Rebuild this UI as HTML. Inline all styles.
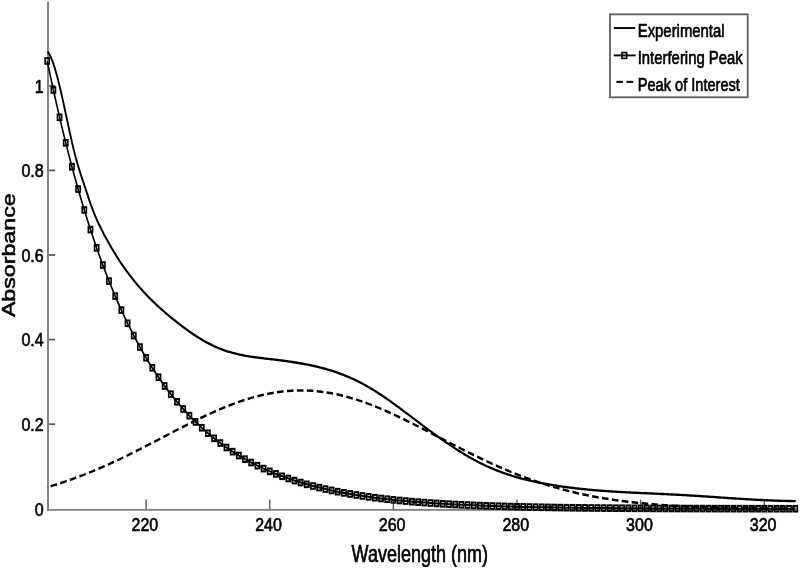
<!DOCTYPE html>
<html><head><meta charset="utf-8"><style>
html,body{margin:0;padding:0;background:#fff;width:800px;height:568px;overflow:hidden}
svg{display:block;filter:blur(0.3px)}
text{font-family:"Liberation Sans",sans-serif;fill:#000;stroke:#000;stroke-width:0.55px;stroke-linejoin:round}
</style></head><body>
<svg width="800" height="568" viewBox="0 0 800 568" fill="#000"><rect x="47" y="1.5" width="2" height="509.5" fill="#828282"/>
<rect x="47" y="508.9" width="750" height="1.9" fill="#828282"/>
<rect x="49" y="423.3" width="6.2" height="1.8" fill="#5a5a5a"/>
<rect x="49" y="338.7" width="6.2" height="1.8" fill="#5a5a5a"/>
<rect x="49" y="254.1" width="6.2" height="1.8" fill="#5a5a5a"/>
<rect x="49" y="169.5" width="6.2" height="1.8" fill="#5a5a5a"/>
<rect x="49" y="84.9" width="6.2" height="1.8" fill="#5a5a5a"/>
<rect x="145.4" y="499.6" width="1.4" height="9.5" fill="#5a5a5a"/>
<rect x="269.04" y="499.6" width="1.4" height="9.5" fill="#5a5a5a"/>
<rect x="392.68" y="499.6" width="1.4" height="9.5" fill="#5a5a5a"/>
<rect x="516.32" y="499.6" width="1.4" height="9.5" fill="#5a5a5a"/>
<rect x="639.96" y="499.6" width="1.4" height="9.5" fill="#5a5a5a"/>
<rect x="763.6" y="499.6" width="1.4" height="9.5" fill="#5a5a5a"/>
<text transform="translate(43.7,516.42) scale(1,1.2)" text-anchor="end" font-size="16.0">0</text>
<text transform="translate(43.7,431.02) scale(1,1.2)" text-anchor="end" font-size="16.0">0.2</text>
<text transform="translate(43.7,346.42) scale(1,1.2)" text-anchor="end" font-size="16.0">0.4</text>
<text transform="translate(43.7,261.82) scale(1,1.2)" text-anchor="end" font-size="16.0">0.6</text>
<text transform="translate(43.7,177.22) scale(1,1.2)" text-anchor="end" font-size="16.0">0.8</text>
<text transform="translate(43.7,92.62) scale(1,1.2)" text-anchor="end" font-size="16.0">1</text>
<text transform="translate(144.9,531) scale(1,1.2)" text-anchor="middle" font-size="16.0">220</text>
<text transform="translate(268.54,531) scale(1,1.2)" text-anchor="middle" font-size="16.0">240</text>
<text transform="translate(392.18,531) scale(1,1.2)" text-anchor="middle" font-size="16.0">260</text>
<text transform="translate(515.82,531) scale(1,1.2)" text-anchor="middle" font-size="16.0">280</text>
<text transform="translate(639.46,531) scale(1,1.2)" text-anchor="middle" font-size="16.0">300</text>
<text transform="translate(763.1,531) scale(1,1.2)" text-anchor="middle" font-size="16.0">320</text>
<text transform="translate(351.6,561.8) scale(1,1.3)" font-size="18.0">Wavelength (nm)</text>
<text transform="translate(14.8,317.1) rotate(-90) scale(1.268,1)" font-size="18.3">Absorbance</text>
<g transform="scale(1,1.27)"><path d="M47.19,47.97 L53.37,70.89 L59.55,92.35 L65.73,112.45 L71.92,131.26 L78.1,148.86 L84.28,165.34 L90.46,180.77 L96.64,195.2 L102.83,208.7 L109.01,221.34 L115.19,233.15 L121.37,244.21 L127.55,254.55 L133.74,264.22 L139.92,273.26 L146.1,281.71 L152.28,289.62 L158.46,297.01 L164.65,303.91 L170.83,310.37 L177.01,316.4 L183.19,322.04 L189.37,327.31 L195.56,332.23 L201.74,336.82 L207.92,341.12 L214.1,345.13 L220.28,348.87 L226.47,352.37 L232.65,355.64 L238.83,358.68 L245.01,361.53 L251.19,364.19 L257.38,366.67 L263.56,368.98 L269.74,371.14 L275.92,373.15 L282.1,375.03 L288.29,376.78 L294.47,378.42 L300.65,379.94 L306.83,381.37 L313.01,382.69 L319.2,383.93 L325.38,385.08 L331.56,386.16 L337.74,387.16 L343.92,388.09 L350.11,388.96 L356.29,389.77 L362.47,390.53 L368.65,391.23 L374.83,391.89 L381.02,392.5 L387.2,393.07 L393.38,393.6 L399.56,394.09 L405.74,394.55 L411.93,394.98 L418.11,395.38 L424.29,395.75 L430.47,396.09 L436.65,396.41 L442.84,396.71 L449.02,396.99 L455.2,397.25 L461.38,397.49 L467.56,397.71 L473.75,397.92 L479.93,398.11 L486.11,398.29 L492.29,398.46 L498.47,398.61 L504.66,398.76 L510.84,398.89 L517.02,399.02 L523.2,399.13 L529.38,399.24 L535.57,399.34 L541.75,399.43 L547.93,399.52 L554.11,399.6 L560.29,399.68 L566.48,399.75 L572.66,399.81 L578.84,399.87 L585.02,399.92 L591.2,399.98 L597.39,400.02 L603.57,400.07 L609.75,400.11 L615.93,400.15 L622.11,400.18 L628.3,400.22 L634.48,400.25 L640.66,400.27 L646.84,400.3 L653.02,400.33 L659.21,400.35 L665.39,400.37 L671.57,400.39 L677.75,400.41 L683.93,400.42 L690.12,400.44 L696.3,400.45 L702.48,400.47 L708.66,400.48 L714.84,400.49 L721.03,400.5 L727.21,400.51 L733.39,400.52 L739.57,400.53 L745.75,400.53 L751.94,400.54 L758.12,400.55 L764.3,400.55 L770.48,400.56 L776.66,400.57 L782.85,400.57 L789.03,400.57 L795.21,400.58" fill="none" stroke="#000" stroke-width="1.6" stroke-linejoin="round"/><g fill="none" stroke="#000" stroke-width="1.6"><rect x="45.09" y="45.77" width="4.2" height="4.4"/><rect x="51.27" y="68.69" width="4.2" height="4.4"/><rect x="57.45" y="90.15" width="4.2" height="4.4"/><rect x="63.63" y="110.25" width="4.2" height="4.4"/><rect x="69.82" y="129.06" width="4.2" height="4.4"/><rect x="76" y="146.66" width="4.2" height="4.4"/><rect x="82.18" y="163.14" width="4.2" height="4.4"/><rect x="88.36" y="178.57" width="4.2" height="4.4"/><rect x="94.54" y="193" width="4.2" height="4.4"/><rect x="100.73" y="206.5" width="4.2" height="4.4"/><rect x="106.91" y="219.14" width="4.2" height="4.4"/><rect x="113.09" y="230.95" width="4.2" height="4.4"/><rect x="119.27" y="242.01" width="4.2" height="4.4"/><rect x="125.45" y="252.35" width="4.2" height="4.4"/><rect x="131.64" y="262.02" width="4.2" height="4.4"/><rect x="137.82" y="271.06" width="4.2" height="4.4"/><rect x="144" y="279.51" width="4.2" height="4.4"/><rect x="150.18" y="287.42" width="4.2" height="4.4"/><rect x="156.36" y="294.81" width="4.2" height="4.4"/><rect x="162.55" y="301.71" width="4.2" height="4.4"/><rect x="168.73" y="308.17" width="4.2" height="4.4"/><rect x="174.91" y="314.2" width="4.2" height="4.4"/><rect x="181.09" y="319.84" width="4.2" height="4.4"/><rect x="187.27" y="325.11" width="4.2" height="4.4"/><rect x="193.46" y="330.03" width="4.2" height="4.4"/><rect x="199.64" y="334.62" width="4.2" height="4.4"/><rect x="205.82" y="338.92" width="4.2" height="4.4"/><rect x="212" y="342.93" width="4.2" height="4.4"/><rect x="218.18" y="346.67" width="4.2" height="4.4"/><rect x="224.37" y="350.17" width="4.2" height="4.4"/><rect x="230.55" y="353.44" width="4.2" height="4.4"/><rect x="236.73" y="356.48" width="4.2" height="4.4"/><rect x="242.91" y="359.33" width="4.2" height="4.4"/><rect x="249.09" y="361.99" width="4.2" height="4.4"/><rect x="255.28" y="364.47" width="4.2" height="4.4"/><rect x="261.46" y="366.78" width="4.2" height="4.4"/><rect x="267.64" y="368.94" width="4.2" height="4.4"/><rect x="273.82" y="370.95" width="4.2" height="4.4"/><rect x="280" y="372.83" width="4.2" height="4.4"/><rect x="286.19" y="374.58" width="4.2" height="4.4"/><rect x="292.37" y="376.22" width="4.2" height="4.4"/><rect x="298.55" y="377.74" width="4.2" height="4.4"/><rect x="304.73" y="379.17" width="4.2" height="4.4"/><rect x="310.91" y="380.49" width="4.2" height="4.4"/><rect x="317.1" y="381.73" width="4.2" height="4.4"/><rect x="323.28" y="382.88" width="4.2" height="4.4"/><rect x="329.46" y="383.96" width="4.2" height="4.4"/><rect x="335.64" y="384.96" width="4.2" height="4.4"/><rect x="341.82" y="385.89" width="4.2" height="4.4"/><rect x="348.01" y="386.76" width="4.2" height="4.4"/><rect x="354.19" y="387.57" width="4.2" height="4.4"/><rect x="360.37" y="388.33" width="4.2" height="4.4"/><rect x="366.55" y="389.03" width="4.2" height="4.4"/><rect x="372.73" y="389.69" width="4.2" height="4.4"/><rect x="378.92" y="390.3" width="4.2" height="4.4"/><rect x="385.1" y="390.87" width="4.2" height="4.4"/><rect x="391.28" y="391.4" width="4.2" height="4.4"/><rect x="397.46" y="391.89" width="4.2" height="4.4"/><rect x="403.64" y="392.35" width="4.2" height="4.4"/><rect x="409.83" y="392.78" width="4.2" height="4.4"/><rect x="416.01" y="393.18" width="4.2" height="4.4"/><rect x="422.19" y="393.55" width="4.2" height="4.4"/><rect x="428.37" y="393.89" width="4.2" height="4.4"/><rect x="434.55" y="394.21" width="4.2" height="4.4"/><rect x="440.74" y="394.51" width="4.2" height="4.4"/><rect x="446.92" y="394.79" width="4.2" height="4.4"/><rect x="453.1" y="395.05" width="4.2" height="4.4"/><rect x="459.28" y="395.29" width="4.2" height="4.4"/><rect x="465.46" y="395.51" width="4.2" height="4.4"/><rect x="471.65" y="395.72" width="4.2" height="4.4"/><rect x="477.83" y="395.91" width="4.2" height="4.4"/><rect x="484.01" y="396.09" width="4.2" height="4.4"/><rect x="490.19" y="396.26" width="4.2" height="4.4"/><rect x="496.37" y="396.41" width="4.2" height="4.4"/><rect x="502.56" y="396.56" width="4.2" height="4.4"/><rect x="508.74" y="396.69" width="4.2" height="4.4"/><rect x="514.92" y="396.82" width="4.2" height="4.4"/><rect x="521.1" y="396.93" width="4.2" height="4.4"/><rect x="527.28" y="397.04" width="4.2" height="4.4"/><rect x="533.47" y="397.14" width="4.2" height="4.4"/><rect x="539.65" y="397.23" width="4.2" height="4.4"/><rect x="545.83" y="397.32" width="4.2" height="4.4"/><rect x="552.01" y="397.4" width="4.2" height="4.4"/><rect x="558.19" y="397.48" width="4.2" height="4.4"/><rect x="564.38" y="397.55" width="4.2" height="4.4"/><rect x="570.56" y="397.61" width="4.2" height="4.4"/><rect x="576.74" y="397.67" width="4.2" height="4.4"/><rect x="582.92" y="397.72" width="4.2" height="4.4"/><rect x="589.1" y="397.78" width="4.2" height="4.4"/><rect x="595.29" y="397.82" width="4.2" height="4.4"/><rect x="601.47" y="397.87" width="4.2" height="4.4"/><rect x="607.65" y="397.91" width="4.2" height="4.4"/><rect x="613.83" y="397.95" width="4.2" height="4.4"/><rect x="620.01" y="397.98" width="4.2" height="4.4"/><rect x="626.2" y="398.02" width="4.2" height="4.4"/><rect x="632.38" y="398.05" width="4.2" height="4.4"/><rect x="638.56" y="398.07" width="4.2" height="4.4"/><rect x="644.74" y="398.1" width="4.2" height="4.4"/><rect x="650.92" y="398.13" width="4.2" height="4.4"/><rect x="657.11" y="398.15" width="4.2" height="4.4"/><rect x="663.29" y="398.17" width="4.2" height="4.4"/><rect x="669.47" y="398.19" width="4.2" height="4.4"/><rect x="675.65" y="398.21" width="4.2" height="4.4"/><rect x="681.83" y="398.22" width="4.2" height="4.4"/><rect x="688.02" y="398.24" width="4.2" height="4.4"/><rect x="694.2" y="398.25" width="4.2" height="4.4"/><rect x="700.38" y="398.27" width="4.2" height="4.4"/><rect x="706.56" y="398.28" width="4.2" height="4.4"/><rect x="712.74" y="398.29" width="4.2" height="4.4"/><rect x="718.93" y="398.3" width="4.2" height="4.4"/><rect x="725.11" y="398.31" width="4.2" height="4.4"/><rect x="731.29" y="398.32" width="4.2" height="4.4"/><rect x="737.47" y="398.33" width="4.2" height="4.4"/><rect x="743.65" y="398.33" width="4.2" height="4.4"/><rect x="749.84" y="398.34" width="4.2" height="4.4"/><rect x="756.02" y="398.35" width="4.2" height="4.4"/><rect x="762.2" y="398.35" width="4.2" height="4.4"/><rect x="768.38" y="398.36" width="4.2" height="4.4"/><rect x="774.56" y="398.37" width="4.2" height="4.4"/><rect x="780.75" y="398.37" width="4.2" height="4.4"/><rect x="786.93" y="398.37" width="4.2" height="4.4"/><rect x="793.11" y="398.38" width="4.2" height="4.4"/></g><path d="M47.19,383.63 L53.37,382.18 L59.55,380.64 L65.73,379.03 L71.92,377.32 L78.1,375.54 L84.28,373.67 L90.46,371.72 L96.64,369.69 L102.83,367.59 L109.01,365.42 L115.19,363.18 L121.37,360.87 L127.55,358.51 L133.74,356.1 L139.92,353.65 L146.1,351.16 L152.28,348.65 L158.46,346.12 L164.65,343.57 L170.83,341.04 L177.01,338.51 L183.19,336.01 L189.37,333.54 L195.56,331.12 L201.74,328.76 L207.92,326.47 L214.1,324.25 L220.28,322.13 L226.47,320.12 L232.65,318.22 L238.83,316.44 L245.01,314.8 L251.19,313.31 L257.38,311.97 L263.56,310.79 L269.74,309.77 L275.92,308.93 L282.1,308.28 L288.29,307.8 L294.47,307.51 L300.65,307.4 L306.83,307.49 L313.01,307.76 L319.2,308.22 L325.38,308.86 L331.56,309.68 L337.74,310.68 L343.92,311.84 L350.11,313.17 L356.29,314.65 L362.47,316.27 L368.65,318.04 L374.83,319.92 L381.02,321.93 L387.2,324.04 L393.38,326.24 L399.56,328.53 L405.74,330.88 L411.93,333.3 L418.11,335.76 L424.29,338.26 L430.47,340.78 L436.65,343.32 L442.84,345.86 L449.02,348.39 L455.2,350.91 L461.38,353.4 L467.56,355.86 L473.75,358.27 L479.93,360.64 L486.11,362.95 L492.29,365.2 L498.47,367.38 L504.66,369.49 L510.84,371.52 L517.02,373.48 L523.2,375.35 L529.38,377.15 L535.57,378.86 L541.75,380.49 L547.93,382.03 L554.11,383.49 L560.29,384.86 L566.48,386.16 L572.66,387.38 L578.84,388.51 L585.02,389.58 L591.2,390.57 L597.39,391.49 L603.57,392.34 L609.75,393.13 L615.93,393.85 L622.11,394.52 L628.3,395.14 L634.48,395.7 L640.66,396.21 L646.84,396.68 L653.02,397.11 L659.21,397.49 L665.39,397.84 L671.57,398.16 L677.75,398.44 L683.93,398.7 L690.12,398.93 L696.3,399.13 L702.48,399.31 L708.66,399.48 L714.84,399.62 L721.03,399.75 L727.21,399.86 L733.39,399.96 L739.57,400.05 L745.75,400.13 L751.94,400.2 L758.12,400.26 L764.3,400.31 L770.48,400.35 L776.66,400.39 L782.85,400.43 L789.03,400.46 L795.21,400.48" fill="none" stroke="#000" stroke-width="1.95" stroke-dasharray="6.6 3.35" stroke-dashoffset="6.45"/><path d="M48.1,41.28 L48.6,41.81 L49.1,42.41 L49.6,43.08 L50.1,43.81 L50.6,44.61 L51.1,45.48 L51.6,46.4 L52.1,47.38 L52.6,48.42 L53.1,49.52 L53.6,50.66 L54.1,51.86 L54.6,53.11 L55.1,54.4 L55.6,55.74 L56.1,57.12 L56.6,58.55 L57.1,60.01 L57.6,61.51 L58.1,63.04 L58.6,64.61 L59.1,66.21 L59.6,67.84 L60.1,69.5 L60.6,71.18 L61.1,72.89 L61.6,74.62 L62.1,76.37 L62.6,78.13 L63.1,79.91 L63.6,81.71 L64.1,83.52 L64.6,85.34 L65.1,87.16 L65.6,88.99 L66.1,90.83 L66.6,92.67 L67.1,94.51 L67.6,96.35 L68.1,98.18 L68.6,100.01 L69.1,101.83 L69.6,103.64 L70.1,105.44 L70.6,107.22 L71.1,108.99 L71.6,110.73 L72.1,112.45 L72.6,114.14 L73.1,115.8 L73.6,117.43 L74.1,119.02 L74.6,120.58 L75.1,122.1 L75.6,123.59 L76.1,125.04 L76.6,126.46 L77.1,127.85 L77.6,129.21 L78.1,130.55 L78.6,131.86 L79.1,133.15 L79.6,134.42 L80.1,135.67 L80.6,136.9 L81.1,138.12 L81.6,139.33 L82.1,140.53 L82.6,141.71 L83.1,142.9 L83.6,144.08 L84.1,145.26 L84.6,146.43 L85.1,147.62 L85.6,148.8 L86.1,149.99 L86.6,151.18 L87.1,152.37 L87.6,153.56 L88.1,154.75 L88.6,155.92 L89.1,157.09 L89.6,158.25 L90.1,159.4 L90.6,160.53 L91.1,161.65 L91.6,162.75 L92.1,163.83 L92.6,164.88 L93.1,165.92 L93.6,166.93 L94.1,167.92 L94.6,168.89 L95.1,169.85 L95.6,170.78 L96.1,171.7 L96.6,172.6 L97.1,173.48 L97.6,174.35 L98.1,175.21 L98.6,176.05 L99.1,176.88 L99.6,177.7 L100.1,178.5 L100.6,179.3 L101.1,180.09 L101.6,180.87 L102.1,181.64 L102.6,182.4 L103.1,183.16 L103.6,183.92 L104.1,184.67 L104.6,185.41 L105.1,186.15 L105.6,186.88 L106.1,187.61 L106.6,188.33 L107.1,189.05 L107.6,189.76 L108.1,190.47 L108.6,191.17 L109.1,191.87 L109.6,192.56 L110.1,193.25 L110.6,193.94 L111.1,194.61 L111.6,195.29 L112.1,195.96 L112.6,196.62 L113.1,197.28 L113.6,197.93 L114.1,198.58 L114.6,199.23 L115.1,199.87 L115.6,200.5 L116.1,201.13 L116.6,201.76 L117.1,202.38 L117.6,203 L118.1,203.62 L118.6,204.22 L119.1,204.83 L119.6,205.43 L120.1,206.03 L120.6,206.62 L121.1,207.2 L121.6,207.79 L122.1,208.37 L122.6,208.94 L123.1,209.51 L123.6,210.08 L124.1,210.64 L124.6,211.2 L125.1,211.76 L125.6,212.31 L126.1,212.86 L126.6,213.4 L127.1,213.94 L127.6,214.47 L128.1,215.01 L128.6,215.53 L129.1,216.06 L129.6,216.58 L130.1,217.09 L130.6,217.61 L131.1,218.12 L131.6,218.62 L132.1,219.13 L132.6,219.63 L133.1,220.12 L133.6,220.61 L134.1,221.1 L134.6,221.59 L135.1,222.07 L135.6,222.55 L136.1,223.02 L136.6,223.5 L137.1,223.96 L137.6,224.43 L138.1,224.89 L138.6,225.35 L139.1,225.81 L139.6,226.26 L140.1,226.71 L140.6,227.16 L141.1,227.6 L141.6,228.04 L142.1,228.48 L142.6,228.92 L143.1,229.35 L143.6,229.78 L144.1,230.21 L144.6,230.63 L145.1,231.05 L145.6,231.47 L146.1,231.89 L146.6,232.3 L147.1,232.71 L147.6,233.12 L148.1,233.53 L148.6,233.93 L149.1,234.33 L149.6,234.73 L150,235.05 L151.5,236.22 L153,237.38 L154.5,238.51 L156,239.63 L157.5,240.73 L159,241.81 L160.5,242.87 L162,243.92 L163.5,244.96 L165,245.98 L166.5,246.99 L168,247.98 L169.5,248.97 L171,249.94 L172.5,250.9 L174,251.86 L175.5,252.8 L177,253.74 L178.5,254.67 L180,255.59 L181.5,256.49 L183,257.39 L184.5,258.27 L186,259.14 L187.5,260 L189,260.84 L190.5,261.67 L192,262.49 L193.5,263.29 L195,264.08 L196.5,264.85 L198,265.61 L199.5,266.35 L201,267.07 L202.5,267.78 L204,268.47 L205.5,269.14 L207,269.79 L208.5,270.42 L210,271.03 L211.5,271.62 L213,272.19 L214.5,272.74 L216,273.27 L217.5,273.78 L219,274.27 L220.5,274.73 L222,275.18 L223.5,275.61 L225,276.02 L226.5,276.41 L228,276.79 L229.5,277.14 L231,277.49 L232.5,277.81 L234,278.13 L235.5,278.42 L237,278.71 L238.5,278.98 L240,279.24 L241.5,279.49 L243,279.72 L244.5,279.95 L246,280.17 L247.5,280.37 L249,280.57 L250.5,280.76 L252,280.94 L253.5,281.12 L255,281.28 L256.5,281.45 L258,281.6 L259.5,281.76 L261,281.9 L262.5,282.05 L264,282.19 L265.5,282.33 L267,282.47 L268.5,282.61 L270,282.74 L271.5,282.88 L273,283.02 L274.5,283.16 L276,283.3 L277.5,283.44 L279,283.59 L280.5,283.73 L282,283.89 L283.5,284.04 L285,284.2 L286.5,284.36 L288,284.52 L289.5,284.69 L291,284.86 L292.5,285.04 L294,285.22 L295.5,285.41 L297,285.6 L298.5,285.8 L300,286 L301.5,286.21 L303,286.42 L304.5,286.64 L306,286.87 L307.5,287.1 L309,287.34 L310.5,287.59 L312,287.85 L313.5,288.11 L315,288.38 L316.5,288.65 L318,288.94 L319.5,289.23 L321,289.53 L322.5,289.84 L324,290.16 L325.5,290.49 L327,290.83 L328.5,291.18 L330,291.54 L331.5,291.91 L333,292.28 L334.5,292.67 L336,293.07 L337.5,293.48 L339,293.9 L340.5,294.33 L342,294.78 L343.5,295.23 L345,295.7 L346.5,296.18 L348,296.67 L349.5,297.18 L351,297.7 L352.5,298.23 L354,298.77 L355.5,299.33 L357,299.9 L358.5,300.49 L360,301.08 L361.5,301.7 L363,302.33 L364.5,302.97 L366,303.63 L367.5,304.3 L369,304.98 L370.5,305.68 L372,306.39 L373.5,307.12 L375,307.85 L376.5,308.6 L378,309.36 L379.5,310.13 L381,310.91 L382.5,311.7 L384,312.5 L385.5,313.31 L387,314.12 L388.5,314.95 L390,315.78 L391.5,316.62 L393,317.46 L394.5,318.32 L396,319.18 L397.5,320.04 L399,320.91 L400.5,321.78 L402,322.66 L403.5,323.54 L405,324.43 L406.5,325.32 L408,326.21 L409.5,327.1 L411,327.99 L412.5,328.89 L414,329.78 L415.5,330.68 L417,331.58 L418.5,332.47 L420,333.37 L421.5,334.26 L423,335.15 L424.5,336.04 L426,336.93 L427.5,337.81 L429,338.7 L430.5,339.57 L432,340.44 L433.5,341.31 L435,342.17 L436.5,343.03 L438,343.88 L439.5,344.72 L441,345.56 L442.5,346.39 L444,347.22 L445.5,348.04 L447,348.85 L448.5,349.65 L450,350.45 L451.5,351.23 L453,352.01 L454.5,352.79 L456,353.55 L457.5,354.31 L459,355.05 L460.5,355.79 L462,356.52 L463.5,357.24 L465,357.95 L466.5,358.65 L468,359.34 L469.5,360.02 L471,360.69 L472.5,361.35 L474,362 L475.5,362.63 L477,363.26 L478.5,363.88 L480,364.48 L481.5,365.07 L483,365.65 L484.5,366.22 L486,366.78 L487.5,367.32 L489,367.85 L490.5,368.37 L492,368.88 L493.5,369.38 L495,369.86 L496.5,370.34 L498,370.8 L499.5,371.25 L501,371.69 L502.5,372.13 L504,372.55 L505.5,372.96 L507,373.36 L508.5,373.75 L510,374.14 L511.5,374.51 L513,374.88 L514.5,375.23 L516,375.58 L517.5,375.92 L519,376.25 L520.5,376.58 L522,376.89 L523.5,377.2 L525,377.5 L526.5,377.79 L528,378.08 L529.5,378.36 L531,378.63 L532.5,378.9 L534,379.16 L535.5,379.41 L537,379.66 L538.5,379.9 L540,380.14 L541.5,380.37 L543,380.6 L544.5,380.82 L546,381.04 L547.5,381.25 L549,381.46 L550.5,381.66 L552,381.86 L553.5,382.06 L555,382.25 L556.5,382.43 L558,382.62 L559.5,382.8 L561,382.97 L562.5,383.14 L564,383.31 L565.5,383.47 L567,383.63 L568.5,383.78 L570,383.93 L571.5,384.08 L573,384.23 L574.5,384.37 L576,384.51 L577.5,384.64 L579,384.77 L580.5,384.9 L582,385.03 L583.5,385.15 L585,385.27 L586.5,385.38 L588,385.5 L589.5,385.61 L591,385.71 L592.5,385.82 L594,385.92 L595.5,386.02 L597,386.12 L598.5,386.22 L600,386.31 L601.5,386.4 L603,386.49 L604.5,386.57 L606,386.66 L607.5,386.74 L609,386.82 L610.5,386.9 L612,386.98 L613.5,387.05 L615,387.13 L616.5,387.2 L618,387.27 L619.5,387.34 L621,387.41 L622.5,387.47 L624,387.54 L625.5,387.6 L627,387.66 L628.5,387.73 L630,387.79 L631.5,387.85 L633,387.9 L634.5,387.96 L636,388.02 L637.5,388.08 L639,388.13 L640.5,388.19 L642,388.24 L643.5,388.3 L645,388.35 L646.5,388.41 L648,388.46 L649.5,388.51 L651,388.57 L652.5,388.62 L654,388.67 L655.5,388.73 L657,388.78 L658.5,388.83 L660,388.89 L661.5,388.94 L663,389 L664.5,389.05 L666,389.11 L667.5,389.17 L669,389.23 L670.5,389.28 L672,389.34 L673.5,389.4 L675,389.46 L676.5,389.53 L678,389.59 L679.5,389.65 L681,389.72 L682.5,389.78 L684,389.85 L685.5,389.92 L687,389.99 L688.5,390.06 L690,390.13 L691.5,390.21 L693,390.28 L694.5,390.35 L696,390.43 L697.5,390.51 L699,390.58 L700.5,390.66 L702,390.74 L703.5,390.82 L705,390.89 L706.5,390.97 L708,391.05 L709.5,391.13 L711,391.21 L712.5,391.29 L714,391.37 L715.5,391.45 L717,391.53 L718.5,391.61 L720,391.7 L721.5,391.78 L723,391.86 L724.5,391.94 L726,392.02 L727.5,392.1 L729,392.17 L730.5,392.25 L732,392.33 L733.5,392.41 L735,392.49 L736.5,392.56 L738,392.64 L739.5,392.72 L741,392.79 L742.5,392.86 L744,392.94 L745.5,393.01 L747,393.08 L748.5,393.15 L750,393.22 L751.5,393.29 L753,393.35 L754.5,393.42 L756,393.48 L757.5,393.55 L759,393.61 L760.5,393.67 L762,393.73 L763.5,393.79 L765,393.84 L766.5,393.9 L768,393.95 L769.5,394 L771,394.05 L772.5,394.1 L774,394.14 L775.5,394.19 L777,394.23 L778.5,394.27 L780,394.31 L781.5,394.34 L783,394.38 L784.5,394.41 L786,394.44 L787.5,394.46 L789,394.49 L790.5,394.51 L792,394.53 L793.5,394.55 L795,394.56" fill="none" stroke="#000" stroke-width="1.85" stroke-linejoin="round" stroke-linecap="round"/></g>
<rect x="610" y="14.35" width="137.7" height="82.95" fill="#fff" stroke="#5e5e5e" stroke-width="1.8"/>
<rect x="613.8" y="27.1" width="21.4" height="1.9" fill="#000"/>
<rect x="613.8" y="54.45" width="21.8" height="1.9" fill="#000"/>
<rect x="622" y="52.5" width="4.6" height="5.9" fill="none" stroke="#000" stroke-width="1.6"/>
<rect x="616.4" y="80.85" width="6.7" height="2" fill="#000"/>
<rect x="626.5" y="80.85" width="6.8" height="2" fill="#000"/>
<text transform="translate(637.71,36.75) scale(1.0,1.265)" font-size="14.9">Experimental</text>
<text transform="translate(637.71,64.4) scale(1.0,1.265)" font-size="14.9">Interfering Peak</text>
<text transform="translate(637.71,90.6) scale(0.98,1.265)" font-size="14.9">Peak of Interest</text></svg>
</body></html>
